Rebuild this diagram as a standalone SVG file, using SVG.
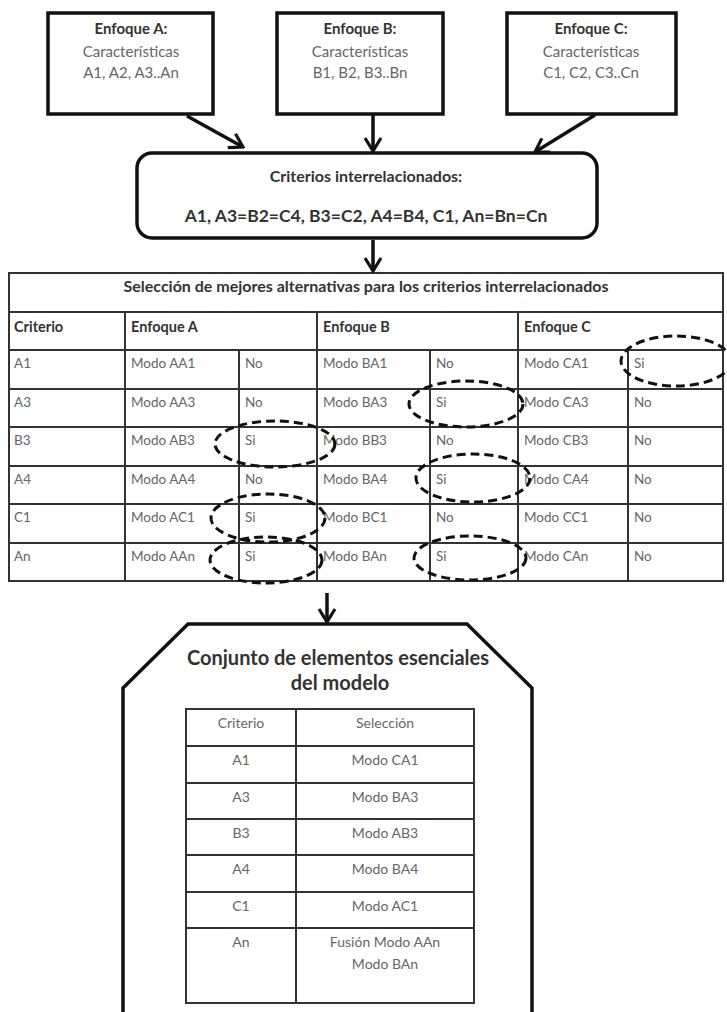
<svg xmlns="http://www.w3.org/2000/svg" width="727" height="1012" viewBox="0 0 727 1012">
  <defs>
    <marker id="chev" viewBox="0 0 16 20" refX="14" refY="10" markerWidth="16" markerHeight="20" markerUnits="userSpaceOnUse" orient="auto">
      <path d="M1,2 L14,10 L1,18" fill="none" stroke="#111" stroke-width="3.2" stroke-linejoin="miter"/>
    </marker>
    <style>
      .box{fill:#fff;stroke:#111;stroke-width:3.5}
      .hd{font-family:Lato,"Liberation Sans",sans-serif;font-weight:bold;fill:#333}
      .tx{font-family:Lato,"Liberation Sans",sans-serif;fill:#666}
      .c{text-anchor:middle}
      .grid{fill:none;stroke:#333;stroke-width:2}
      .sel{fill:none;stroke:#111;stroke-width:3;stroke-dasharray:9 5}
      .link{fill:none;stroke:#111;stroke-width:3.5;marker-end:url(#chev)}
    </style>
  </defs>
  <rect width="727" height="1012" fill="#fff"/>

  <!-- approach boxes -->
  <g id="enfoque-a">
    <rect class="box" x="48" y="13" width="165" height="101"/>
    <text class="hd c" x="131" y="34" font-size="15">Enfoque A:</text>
    <text class="tx c" x="131" y="57" font-size="15">Características</text>
    <text class="tx c" x="131" y="78" font-size="15">A1, A2, A3..An</text>
  </g>
  <g id="enfoque-b">
    <rect class="box" x="277" y="13" width="166" height="101"/>
    <text class="hd c" x="360" y="34" font-size="15">Enfoque B:</text>
    <text class="tx c" x="360" y="57" font-size="15">Características</text>
    <text class="tx c" x="360" y="78" font-size="15">B1, B2, B3..Bn</text>
  </g>
  <g id="enfoque-c">
    <rect class="box" x="507" y="13" width="169" height="101"/>
    <text class="hd c" x="591" y="34" font-size="15">Enfoque C:</text>
    <text class="tx c" x="591" y="57" font-size="15">Características</text>
    <text class="tx c" x="591" y="78" font-size="15">C1, C2, C3..Cn</text>
  </g>

  <!-- interrelated criteria -->
  <g id="criterios">
    <rect class="box" x="137" y="153" width="460" height="85" rx="15"/>
    <text class="hd c" x="366" y="182" font-size="16">Criterios interrelacionados:</text>
    <text class="hd c" x="366" y="222" font-size="17.5">A1, A3=B2=C4, B3=C2, A4=B4, C1, An=Bn=Cn</text>
  </g>

  <!-- selection table -->
  <g id="seleccion">
    <rect class="grid" x="9" y="273" width="714" height="308"/>
    <path class="grid" d="M9,312H723M9,350H723M9,389H723M9,427H723M9,466H723M9,504H723M9,543H723
      M125,312V581M317,312V581M518,312V581M239,350V581M430,350V581M628,350V581"/>
    <text class="hd c" x="366" y="292" font-size="16">Selección de mejores alternativas para los criterios interrelacionados</text>
    <g class="hd" font-size="14.5">
      <text x="14" y="332">Criterio</text>
      <text x="131" y="332">Enfoque A</text>
      <text x="323" y="332">Enfoque B</text>
      <text x="524" y="332">Enfoque C</text>
    </g>
    <g class="tx" font-size="13.5">
      <text x="14" y="368">A1</text><text x="131" y="368">Modo AA1</text><text x="245" y="368">No</text><text x="323" y="368">Modo BA1</text><text x="436" y="368">No</text><text x="524" y="368">Modo CA1</text><text x="634" y="368">Si</text>
      <text x="14" y="407">A3</text><text x="131" y="407">Modo AA3</text><text x="245" y="407">No</text><text x="323" y="407">Modo BA3</text><text x="436" y="407">Si</text><text x="524" y="407">Modo CA3</text><text x="634" y="407">No</text>
      <text x="14" y="445">B3</text><text x="131" y="445">Modo AB3</text><text x="245" y="445">Si</text><text x="323" y="445">Modo BB3</text><text x="436" y="445">No</text><text x="524" y="445">Modo CB3</text><text x="634" y="445">No</text>
      <text x="14" y="484">A4</text><text x="131" y="484">Modo AA4</text><text x="245" y="484">No</text><text x="323" y="484">Modo BA4</text><text x="436" y="484">Si</text><text x="524" y="484">Modo CA4</text><text x="634" y="484">No</text>
      <text x="14" y="522">C1</text><text x="131" y="522">Modo AC1</text><text x="245" y="522">Si</text><text x="323" y="522">Modo BC1</text><text x="436" y="522">No</text><text x="524" y="522">Modo CC1</text><text x="634" y="522">No</text>
      <text x="14" y="561">An</text><text x="131" y="561">Modo AAn</text><text x="245" y="561">Si</text><text x="323" y="561">Modo BAn</text><text x="436" y="561">Si</text><text x="524" y="561">Modo CAn</text><text x="634" y="561">No</text>
    </g>
    <!-- chosen options -->
    <ellipse class="sel" cx="676" cy="361" rx="55" ry="25"/>
    <ellipse class="sel" cx="466" cy="404" rx="57" ry="23"/>
    <ellipse class="sel" cx="275" cy="444" rx="60" ry="23"/>
    <ellipse class="sel" cx="473" cy="478" rx="57" ry="24"/>
    <ellipse class="sel" cx="268" cy="518" rx="57" ry="24"/>
    <ellipse class="sel" cx="266" cy="560" rx="56" ry="23"/>
    <ellipse class="sel" cx="470" cy="558" rx="56" ry="22"/>
  </g>

  <!-- essential elements of the model -->
  <g id="conjunto">
    <path d="M123,1016V688L188,624H467L532,688V1016" fill="#fff" stroke="#111" stroke-width="3.5"/>
    <text class="hd c" x="338" y="665" font-size="20">Conjunto de elementos esenciales</text>
    <text class="hd c" x="340" y="690" font-size="20">del modelo</text>
    <rect class="grid" x="186" y="709" width="288" height="294"/>
    <path class="grid" d="M296,709V1003M186,746H474M186,783H474M186,819H474M186,855H474M186,892H474M186,928H474"/>
    <g class="tx c" font-size="14">
      <text x="241" y="728">Criterio</text><text x="385" y="728">Selección</text>
      <text x="241" y="765">A1</text><text x="385" y="765">Modo CA1</text>
      <text x="241" y="802">A3</text><text x="385" y="802">Modo BA3</text>
      <text x="241" y="838">B3</text><text x="385" y="838">Modo AB3</text>
      <text x="241" y="874">A4</text><text x="385" y="874">Modo BA4</text>
      <text x="241" y="911">C1</text><text x="385" y="911">Modo AC1</text>
      <text x="241" y="947">An</text><text x="385" y="947">Fusión Modo AAn</text>
      <text x="385" y="969">Modo BAn</text>
    </g>
  </g>

  <!-- connectors -->
  <g id="connectors">
    <line class="link" x1="187" y1="116" x2="243" y2="147"/>
    <line class="link" x1="373" y1="115" x2="373" y2="151"/>
    <line class="link" x1="595" y1="115" x2="535" y2="152"/>
    <line class="link" x1="373" y1="240" x2="373" y2="271"/>
    <line class="link" x1="327" y1="593" x2="327" y2="622"/>
  </g>
</svg>
